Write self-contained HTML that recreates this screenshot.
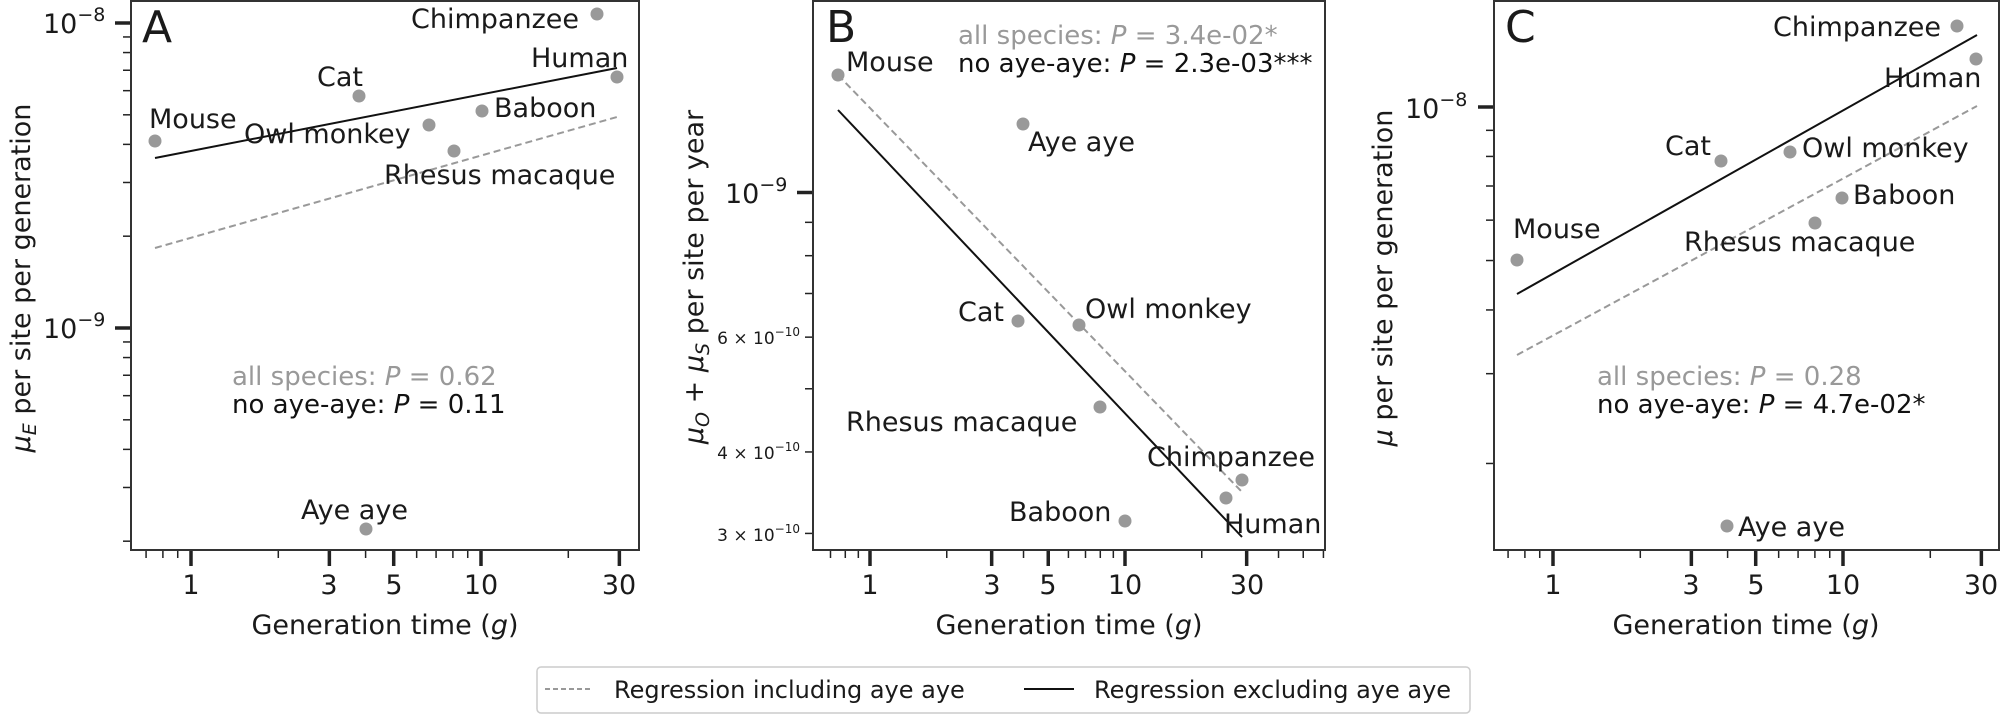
<!DOCTYPE html>
<html><head><meta charset="utf-8">
<style>
html,body{margin:0;padding:0;background:#fff;}
svg{display:block;font-family:"DejaVu Sans","Liberation Sans",sans-serif;}
.lab{font-size:27px;fill:#1a1a1a;}
.ann{font-size:26px;}
.tk{font-size:27px;fill:#1a1a1a;}
.sm{font-size:17px;fill:#1a1a1a;}
</style></head><body>
<svg id="s" width="2000" height="717" viewBox="0 0 2000 717" xmlns="http://www.w3.org/2000/svg">
<g id="ticks"></g>
<!-- frames -->
<rect x="131" y="1" width="508" height="549" fill="none" stroke="#333" stroke-width="2"/>
<rect x="813" y="1" width="512" height="549" fill="none" stroke="#333" stroke-width="2"/>
<rect x="1494" y="1" width="505" height="549" fill="none" stroke="#333" stroke-width="2"/>

<!-- Panel A -->
<line x1="155" y1="158" x2="617" y2="68" stroke="#111" stroke-width="2"/>
<line x1="155" y1="248" x2="617" y2="117" stroke="#999" stroke-width="2" stroke-dasharray="7,4"/>
<g fill="#999">
<circle cx="155" cy="141" r="6.5"/><circle cx="359" cy="96" r="6.5"/><circle cx="429" cy="125" r="6.5"/>
<circle cx="454" cy="151" r="6.5"/><circle cx="482" cy="111" r="6.5"/><circle cx="597" cy="14" r="6.5"/>
<circle cx="617" cy="77" r="6.5"/><circle cx="366" cy="529" r="6.5"/>
</g>
<text x="142" y="42" font-size="44" fill="#1a1a1a">A</text>
<text class="lab" x="411" y="28">Chimpanzee</text>
<text class="lab" x="531" y="67">Human</text>
<text class="lab" x="317" y="86">Cat</text>
<text class="lab" x="149" y="128">Mouse</text>
<text class="lab" x="244" y="143">Owl monkey</text>
<text class="lab" x="494" y="117">Baboon</text>
<text class="lab" x="384" y="184">Rhesus macaque</text>
<text class="lab" x="301" y="519">Aye aye</text>
<text class="ann" x="232" y="385" fill="#999">all species: <tspan font-style="italic">P</tspan> = 0.62</text>
<text class="ann" x="232" y="413" fill="#111">no aye-aye: <tspan font-style="italic">P</tspan> = 0.11</text>
<text class="tk" x="43" y="33">10<tspan font-size="19" dy="-12">−8</tspan></text>
<text class="tk" x="43" y="338">10<tspan font-size="19" dy="-12">−9</tspan></text>
<text class="tk" transform="translate(30,278) rotate(-90)" text-anchor="middle"><tspan font-style="italic">μ</tspan><tspan font-style="italic" font-size="19" dy="6">E</tspan><tspan dy="-6"> per site per generation</tspan></text>
<text class="tk" x="385" y="634" text-anchor="middle">Generation time (<tspan font-style="italic">g</tspan>)</text>

<!-- Panel B -->
<line x1="838" y1="110" x2="1242" y2="537" stroke="#111" stroke-width="2"/>
<line x1="838" y1="75" x2="1242" y2="492" stroke="#999" stroke-width="2" stroke-dasharray="7,4"/>
<g fill="#999">
<circle cx="838" cy="75" r="6.5"/><circle cx="1023" cy="124" r="6.5"/><circle cx="1018" cy="321" r="6.5"/>
<circle cx="1079" cy="325" r="6.5"/><circle cx="1100" cy="407" r="6.5"/><circle cx="1242" cy="480" r="6.5"/>
<circle cx="1226" cy="498" r="6.5"/><circle cx="1125" cy="521" r="6.5"/>
</g>
<text x="826" y="42" font-size="44" fill="#1a1a1a">B</text>
<text class="ann" x="958" y="44" fill="#999">all species: <tspan font-style="italic">P</tspan> = 3.4e-02*</text>
<text class="ann" x="958" y="72" fill="#111">no aye-aye: <tspan font-style="italic">P</tspan> = 2.3e-03***</text>
<text class="lab" x="846" y="71">Mouse</text>
<text class="lab" x="1028" y="151">Aye aye</text>
<text class="lab" x="958" y="321">Cat</text>
<text class="lab" x="1085" y="318">Owl monkey</text>
<text class="lab" x="846" y="431">Rhesus macaque</text>
<text class="lab" x="1147" y="466">Chimpanzee</text>
<text class="lab" x="1009" y="521">Baboon</text>
<text class="lab" x="1224" y="533">Human</text>
<text class="tk" x="725" y="203">10<tspan font-size="19" dy="-12">−9</tspan></text>
<text class="sm" x="800" y="344" text-anchor="end">6 × 10<tspan font-size="12" dy="-8">−10</tspan></text>
<text class="sm" x="800" y="459" text-anchor="end">4 × 10<tspan font-size="12" dy="-8">−10</tspan></text>
<text class="sm" x="800" y="541" text-anchor="end">3 × 10<tspan font-size="12" dy="-8">−10</tspan></text>
<text class="tk" transform="translate(703,277) rotate(-90)" text-anchor="middle"><tspan font-style="italic">μ</tspan><tspan font-style="italic" font-size="19" dy="6">O</tspan><tspan dy="-6"> + </tspan><tspan font-style="italic">μ</tspan><tspan font-style="italic" font-size="19" dy="6">S</tspan><tspan dy="-6"> per site per year</tspan></text>
<text class="tk" x="1069" y="634" text-anchor="middle">Generation time (<tspan font-style="italic">g</tspan>)</text>

<!-- Panel C -->
<line x1="1517" y1="294" x2="1977" y2="35" stroke="#111" stroke-width="2"/>
<line x1="1517" y1="355" x2="1977" y2="106" stroke="#999" stroke-width="2" stroke-dasharray="7,4"/>
<g fill="#999">
<circle cx="1957" cy="26" r="6.5"/><circle cx="1976" cy="59" r="6.5"/><circle cx="1721" cy="161" r="6.5"/>
<circle cx="1790" cy="152" r="6.5"/><circle cx="1842" cy="198" r="6.5"/><circle cx="1815" cy="223" r="6.5"/>
<circle cx="1517" cy="260" r="6.5"/><circle cx="1727" cy="526" r="6.5"/>
</g>
<text x="1505" y="42" font-size="44" fill="#1a1a1a">C</text>
<text class="lab" x="1773" y="36">Chimpanzee</text>
<text class="lab" x="1884" y="87">Human</text>
<text class="lab" x="1665" y="155">Cat</text>
<text class="lab" x="1802" y="157">Owl monkey</text>
<text class="lab" x="1853" y="204">Baboon</text>
<text class="lab" x="1513" y="238">Mouse</text>
<text class="lab" x="1684" y="251">Rhesus macaque</text>
<text class="lab" x="1738" y="536">Aye aye</text>
<text class="ann" x="1597" y="385" fill="#999">all species: <tspan font-style="italic">P</tspan> = 0.28</text>
<text class="ann" x="1597" y="413" fill="#111">no aye-aye: <tspan font-style="italic">P</tspan> = 4.7e-02*</text>
<text class="tk" x="1405" y="118">10<tspan font-size="19" dy="-12">−8</tspan></text>
<text class="tk" transform="translate(1392,278) rotate(-90)" text-anchor="middle"><tspan font-style="italic">μ</tspan> per site per generation</text>
<text class="tk" x="1746" y="634" text-anchor="middle">Generation time (<tspan font-style="italic">g</tspan>)</text>

<!-- x tick labels -->
<g class="tk" text-anchor="middle">
<text x="191" y="594">1</text><text x="329" y="594">3</text><text x="394" y="594">5</text><text x="481" y="594">10</text><text x="619" y="594">30</text>
<text x="870" y="594">1</text><text x="992" y="594">3</text><text x="1048" y="594">5</text><text x="1125" y="594">10</text><text x="1247" y="594">30</text>
<text x="1553" y="594">1</text><text x="1691" y="594">3</text><text x="1756" y="594">5</text><text x="1843" y="594">10</text><text x="1981" y="594">30</text>
</g>

<!-- legend -->
<rect x="537" y="667" width="933" height="46" rx="4" fill="#fff" stroke="#ccc" stroke-width="1.5"/>
<line x1="545" y1="689" x2="593" y2="689" stroke="#999" stroke-width="2" stroke-dasharray="5,3"/>
<text x="614" y="698" font-size="24" fill="#1a1a1a">Regression including aye aye</text>
<line x1="1024" y1="689" x2="1074" y2="689" stroke="#111" stroke-width="2"/>
<text x="1094" y="698" font-size="24" fill="#1a1a1a">Regression excluding aye aye</text>
</svg>
<script>
(function(){
var g=document.getElementById('ticks'),NS='http://www.w3.org/2000/svg';
function L(x1,y1,x2,y2,w){var l=document.createElementNS(NS,'line');l.setAttribute('x1',x1);l.setAttribute('y1',y1);l.setAttribute('x2',x2);l.setAttribute('y2',y2);l.setAttribute('stroke','#222');l.setAttribute('stroke-width',w);g.appendChild(l);}
var lg=Math.log10;
var panels=[
 {x0:131,x1:639,xm:function(v){return 191+290*lg(v);},ym:function(v){return 23+305*lg(1e-8/v);},maj:[1e-8,1e-9],lab:[]},
 {x0:813,x1:1325,xm:function(v){return 870+255*lg(v);},ym:function(v){return 192.5+652*lg(1e-9/v);},maj:[1e-9],lab:[]},
 {x0:1494,x1:1999,xm:function(v){return 1553+290*lg(v);},ym:function(v){return 107+510*lg(1e-8/v);},maj:[1e-8],lab:[]}
];
var xs=[0.6,0.7,0.8,0.9,1,2,3,4,5,6,7,8,9,10,20,30,40,50,60];
var majx=[1,3,5,10,30];
panels.forEach(function(p){
 xs.forEach(function(v){var x=p.xm(v);if(x<p.x0+1||x>p.x1-1)return;
  if(majx.indexOf(v)>=0)L(x,550,x,566,3.5);else L(x,550,x,558,1.5);});
 [1e-10,1e-9,1e-8].forEach(function(d){for(var k=1;k<10;k++){var v=d*k,y=p.ym(v);if(y<2||y>549)continue;
  var isMaj=p.maj.some(function(m){return Math.abs(m-v)/m<1e-6;});
  if(isMaj)L(p.x0,y,p.x0-16,y,3.5);else L(p.x0,y,p.x0-8,y,1.5);}});
});
})();
</script>
</body></html>
